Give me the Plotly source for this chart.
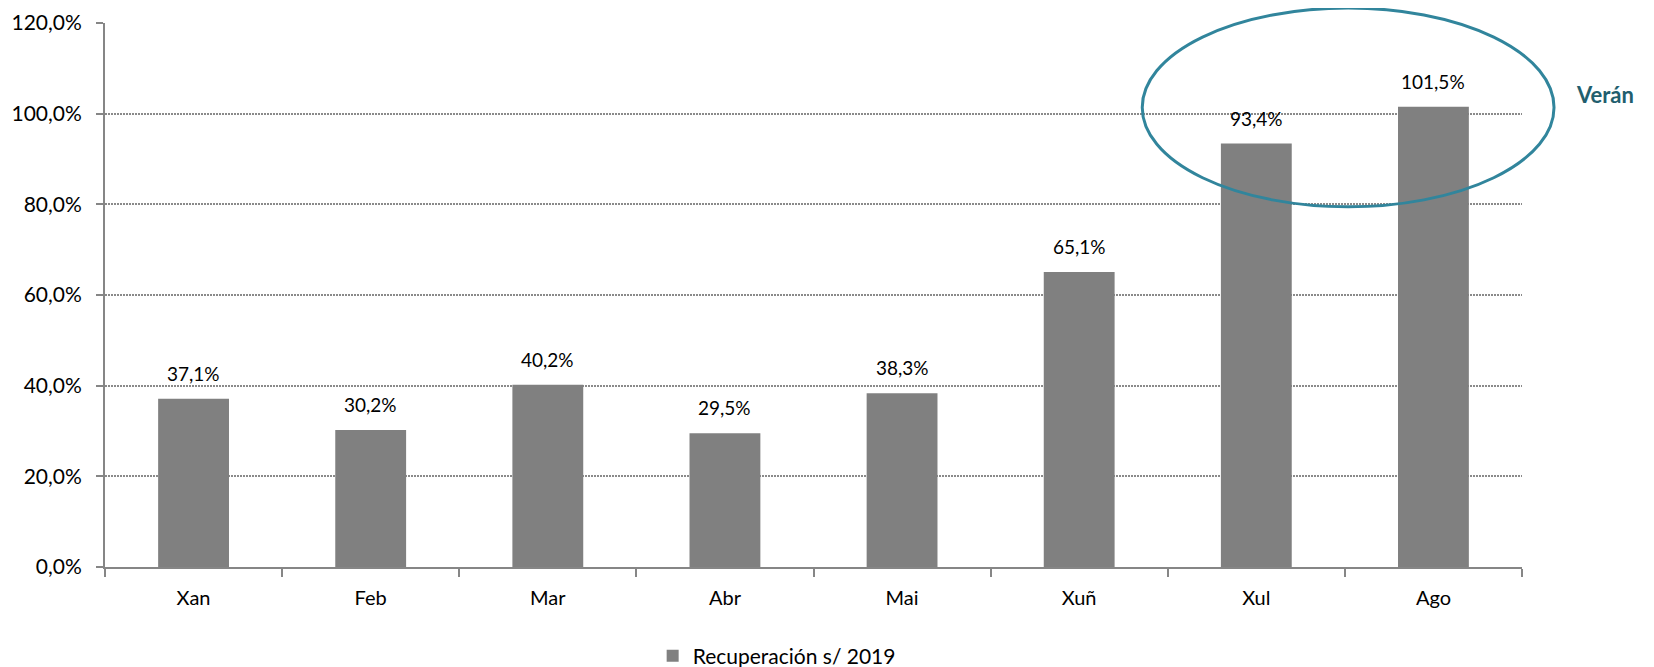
import plotly.graph_objects as go

months = ["Xan", "Feb", "Mar", "Abr", "Mai", "Xuñ", "Xul", "Ago"]
recovery = [37.1, 30.2, 40.2, 29.5, 38.3, 65.1, 93.4, 101.5]
series_name = "Recuperación s/ 2019"
y_ticks = [0, 20, 40, 60, 80, 100, 120]
highlight_label = "Verán"

FONT = "Lato, Carlito, Calibri, sans-serif"

def fmt(v):
    return f"{v:.1f}".replace(".", ",") + "%"

fig = go.Figure()
fig.add_trace(go.Bar(
    x=months, y=recovery, name=series_name,
    marker=dict(color="#808080", line=dict(width=0)),
    showlegend=True,
))

for m, v in zip(months, recovery):
    fig.add_annotation(
        x=m, y=v, text=fmt(v),
        showarrow=False, yanchor="bottom", yshift=12,
        font=dict(family=FONT, size=19, color="#000000"),
    )

# ellipse highlighting summer
fig.add_shape(type="circle", xref="paper", yref="paper",
              x0=0.732, x1=1.0226, y0=0.662, y1=1.0276,
              line=dict(color="#31859C", width=3), layer="above")
fig.add_annotation(xref="paper", yref="paper", x=1.0367, y=0.868,
                   xanchor="left", yanchor="middle", showarrow=False,
                   text=f"<b>{highlight_label}</b>",
                   font=dict(family=FONT, size=22, color="#215E6E"))

fig.update_layout(
    width=1654, height=667,
    margin=dict(l=97, r=140, t=15, b=108, autoexpand=False),
    paper_bgcolor="white", plot_bgcolor="white",
    bargap=0.6,
    font=dict(family=FONT, size=20, color="#000000"),
    legend=dict(orientation="h", x=0.474, xanchor="center", y=-0.164,
                yanchor="middle", font=dict(family=FONT, size=21),
                itemwidth=30),
    xaxis=dict(
        type="category", showline=True, linecolor="#868686", linewidth=2,
        ticks="outside", tickson="boundaries", ticklen=8, tickcolor="#868686",
        tickwidth=2, tickfont=dict(size=20), showgrid=False,
        range=[-0.5, 7.5], ticklabelstandoff=12, automargin=False,
    ),
    yaxis=dict(
        range=[0, 120], tickvals=y_ticks, ticktext=[fmt(t) for t in y_ticks],
        showline=True, linecolor="#868686", linewidth=2,
        ticks="outside", ticklen=7, tickcolor="#868686", tickwidth=2,
        showgrid=True, gridcolor="#8a8a8a", gridwidth=1.5, griddash="2px,1px",
        zeroline=False, tickfont=dict(size=21), ticklabelstandoff=10,
        automargin=False,
    ),
)

fig.write_html("out.html")
